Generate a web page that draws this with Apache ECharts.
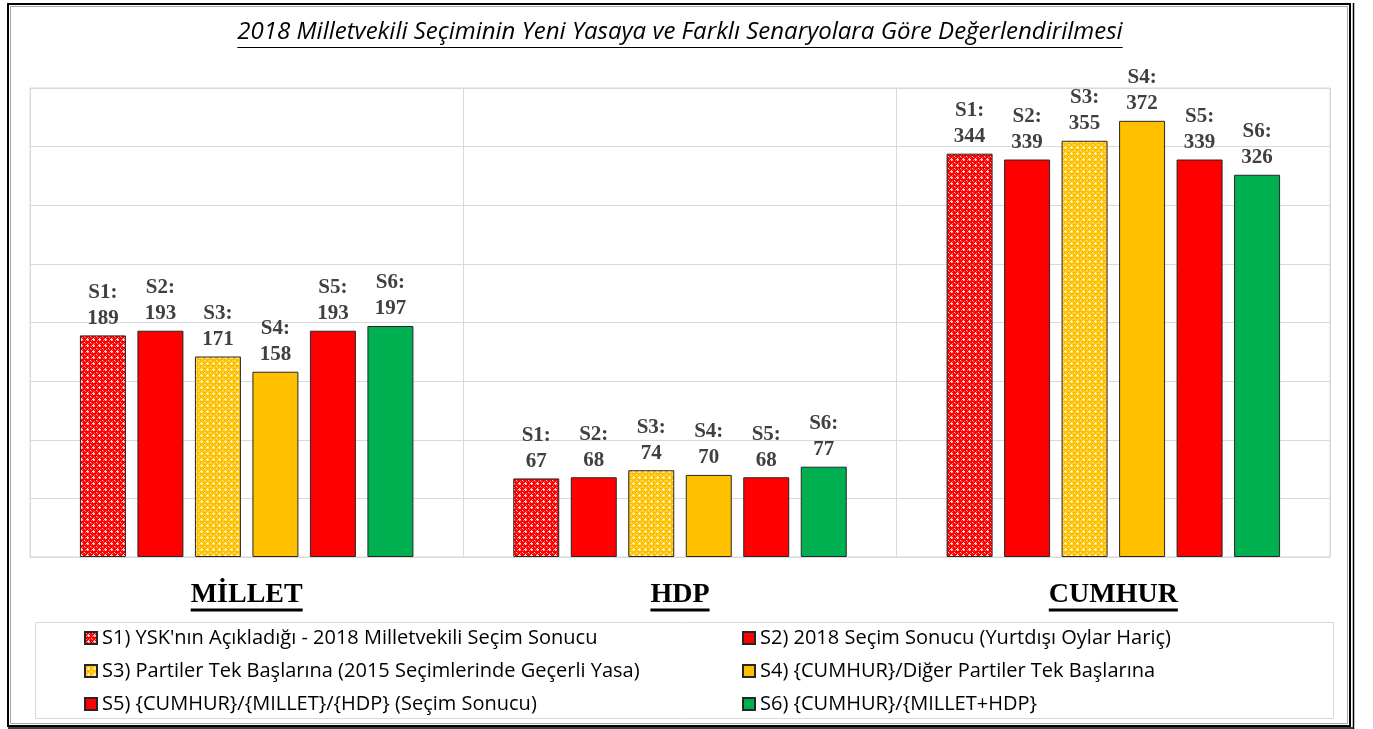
<!DOCTYPE html>
<html>
<head>
<meta charset="utf-8">
<script src="https://cdn.jsdelivr.net/npm/echarts@6/dist/echarts.min.js"></script>
<style>
html,body{margin:0;padding:0;background:#fff;}
#chart{width:1373px;height:729px;}
</style>
</head>
<body>
<div id="chart"></div>
<script>
// ---- data ----
const categories = ['MİLLET', 'HDP', 'CUMHUR'];
const seriesCodes = ['S1', 'S2', 'S3', 'S4', 'S5', 'S6'];
const seriesNames = [
  "S1) YSK'nın Açıkladığı - 2018 Milletvekili Seçim Sonucu",
  "S2) 2018 Seçim Sonucu (Yurtdışı Oylar Hariç)",
  "S3) Partiler Tek Başlarına (2015 Seçimlerinde Geçerli Yasa)",
  "S4) {CUMHUR}/Diğer Partiler Tek Başlarına",
  "S5) {CUMHUR}/{MILLET}/{HDP} (Seçim Sonucu)",
  "S6) {CUMHUR}/{MILLET+HDP}"
];
const s1 = [189, 67, 344];
const s2 = [193, 68, 339];
const s3 = [171, 74, 355];
const s4 = [158, 70, 372];
const s5 = [193, 68, 339];
const s6 = [197, 77, 326];
const seriesValues = [s1, s2, s3, s4, s5, s6];
const titleText = '2018 Milletvekili Seçiminin Yeni Yasaya ve Farklı Senaryolara Göre Değerlendirilmesi';

// ---- patterns ----
function makePattern(base, light, mid) {
  const c = document.createElement('canvas');
  c.width = 6; c.height = 6;
  const g = c.getContext('2d');
  g.fillStyle = base; g.fillRect(0, 0, 6, 6);
  g.fillStyle = mid;
  g.fillRect(1, 1, 1, 1); g.fillRect(4, 1, 1, 1); g.fillRect(1, 4, 1, 1); g.fillRect(4, 4, 1, 1);
  g.fillStyle = light;
  g.fillRect(2, 3, 3, 1); g.fillRect(3, 2, 1, 3);
  g.fillRect(0, 0, 1, 1);
  return c;
}
const redPat = { image: makePattern('#ff0000', '#ffd0d0', '#ff8080'), repeat: 'repeat' };
const yelPat = { image: makePattern('#ffc000', '#fff3cc', '#ffdf80'), repeat: 'repeat' };
const colors = [redPat, '#ff0000', yelPat, '#ffc000', '#ff0000', '#00b050'];

const chart = echarts.init(document.getElementById('chart'), null, { renderer: 'canvas' });

const series = seriesValues.map((vals, i) => ({
  name: seriesNames[i],
  type: 'bar',
  data: vals,
  barWidth: 46,
  barGap: '25%',
  itemStyle: { color: colors[i], borderColor: '#262626', borderWidth: 1 },
  label: {
    show: true,
    position: 'top',
    distance: 4,
    formatter: p => seriesCodes[i] + ':\n' + p.value,
    fontFamily: 'Liberation Serif',
    fontWeight: 'bold',
    fontSize: 21,
    lineHeight: 26,
    color: '#404040'
  }
}));

const labelFont = 'bold 28px "Liberation Serif"';
const titleFont = 'italic 24px "Open Sans"';

const mc = document.createElement('canvas').getContext('2d');
function textW(font, t) { mc.font = font; return mc.measureText(t).width; }

function build() {
  const tw = textW(titleFont, titleText);
  const legendText = { fontFamily: 'Open Sans', fontSize: 20, lineHeight: 20, color: '#000' };
  chart.setOption({
    animation: false,
    title: {
      text: titleText,
      left: 680 - tw / 2,
      top: 19,
      padding: 0,
      textStyle: { fontFamily: 'Open Sans', fontStyle: 'italic', fontWeight: 'normal', fontSize: 24, lineHeight: 26, color: '#000' }
    },
    legend: [
      {
        data: [seriesNames[0], seriesNames[2], seriesNames[4]],
        orient: 'vertical', left: 79, top: 623, itemWidth: 12, itemHeight: 12, itemGap: 13,
        icon: 'rect', textStyle: legendText
      },
      {
        data: [seriesNames[1], seriesNames[3], seriesNames[5]],
        orient: 'vertical', left: 737, top: 623, itemWidth: 12, itemHeight: 12, itemGap: 13,
        icon: 'rect', textStyle: legendText
      }
    ],
    grid: { left: 30, right: 43, top: 88, bottom: 172, show: true, borderColor: '#d9d9d9', borderWidth: 1 },
    xAxis: {
      type: 'category',
      data: categories,
      axisLine: { show: true, lineStyle: { color: '#d9d9d9' } },
      axisTick: { show: false },
      splitLine: { show: true, lineStyle: { color: '#d9d9d9', width: 1 } },
      axisLabel: { margin: 24, fontFamily: 'Liberation Serif', fontWeight: 'bold', fontSize: 28, color: '#000' }
    },
    yAxis: {
      type: 'value',
      min: 0, max: 400, interval: 50,
      axisLabel: { show: false },
      axisLine: { show: false },
      axisTick: { show: false },
      splitLine: { lineStyle: { color: '#d9d9d9', width: 1 } }
    },
    series: series
  });

  const graphics = [];
  // outer frame
  graphics.push({ type: 'rect', shape: { x: 8, y: 4, width: 1342, height: 722 }, style: { fill: 'none', stroke: '#000', lineWidth: 2 }, silent: true });
  graphics.push({ type: 'rect', shape: { x: 10.5, y: 6.5, width: 1337, height: 717 }, style: { fill: 'none', stroke: '#a6a6a6', lineWidth: 1 }, silent: true });
  graphics.push({ type: 'line', shape: { x1: 1353.5, y1: 3, x2: 1353.5, y2: 729 }, style: { stroke: '#000', lineWidth: 1.5 }, silent: true });
  graphics.push({ type: 'line', shape: { x1: 8, y1: 728, x2: 1354, y2: 728 }, style: { stroke: '#000', lineWidth: 1.5 }, silent: true });
  // legend box
  graphics.push({ type: 'rect', shape: { x: 35.5, y: 622.5, width: 1298, height: 96 }, style: { fill: 'none', stroke: '#d9d9d9', lineWidth: 1 }, silent: true });
  // title underline
  graphics.push({ type: 'line', shape: { x1: 680 - tw / 2, y1: 47.5, x2: 680 + tw / 2, y2: 47.5 }, style: { stroke: '#000', lineWidth: 1 }, silent: true });
  // category underlines
  categories.forEach((c, i) => {
    const cx = chart.convertToPixel({ xAxisIndex: 0 }, i);
    const w = textW(labelFont, c);
    graphics.push({ type: 'line', shape: { x1: cx - w / 2, y1: 610, x2: cx + w / 2, y2: 610 }, style: { stroke: '#000', lineWidth: 3 }, silent: true });
  });
  chart.setOption({ graphic: graphics });
}

if (document.fonts && document.fonts.load) {
  Promise.all([document.fonts.load(titleFont), document.fonts.load('20px "Open Sans"'), document.fonts.load(labelFont)])
    .then(build, build);
} else {
  build();
}
</script>
</body>
</html>
